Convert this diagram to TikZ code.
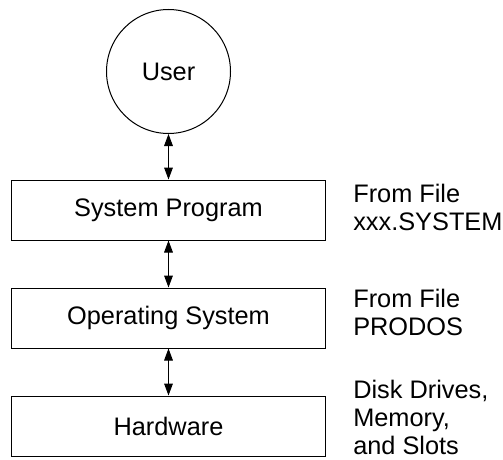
\documentclass[tikz,border=0pt]{standalone}
\usepackage{fontspec}
\setmainfont{Liberation Sans}
\usetikzlibrary{arrows.meta}

\begin{document}
\begin{tikzpicture}[x=0.75pt,y=-0.75pt,
    every node/.style={font=\fontsize{19}{21}\selectfont},
    layer/.style={draw,line width=0.75pt,minimum width=236pt,minimum height=45pt,inner sep=0pt},
    note/.style={anchor=west,align=left,inner sep=0pt},
    link/.style={{Triangle[length=9pt,width=6.5pt]}-{Triangle[length=9pt,width=6.5pt]},line width=0.75pt}]
    \useasboundingbox (0,0) rectangle (503,460);
    % User and layers
    \node[draw,circle,line width=0.75pt,minimum size=93pt,inner sep=0pt] (user) at (168.5,71.5) {User};
    \node[layer] (sysprog) at (168.5,210) {System Program};
    \node[layer] (opsys) at (168.5,318) {Operating System};
    \node[layer] (hw) at (168.5,426) {Hardware};
    % Arrows
    \draw[link] (user) -- (sysprog);
    \draw[link] (sysprog) -- (opsys);
    \draw[link] (opsys) -- (hw);
    % Where each part comes from
    \node[note] (srcprog) at (353,207) {From File\\xxx.SYSTEM};
    \node[note] (srcos) at (353,312) {From File\\PRODOS};
    \node[note] (srchw) at (353,417) {Disk Drives,\\Memory,\\and Slots};
\end{tikzpicture}
\end{document}
